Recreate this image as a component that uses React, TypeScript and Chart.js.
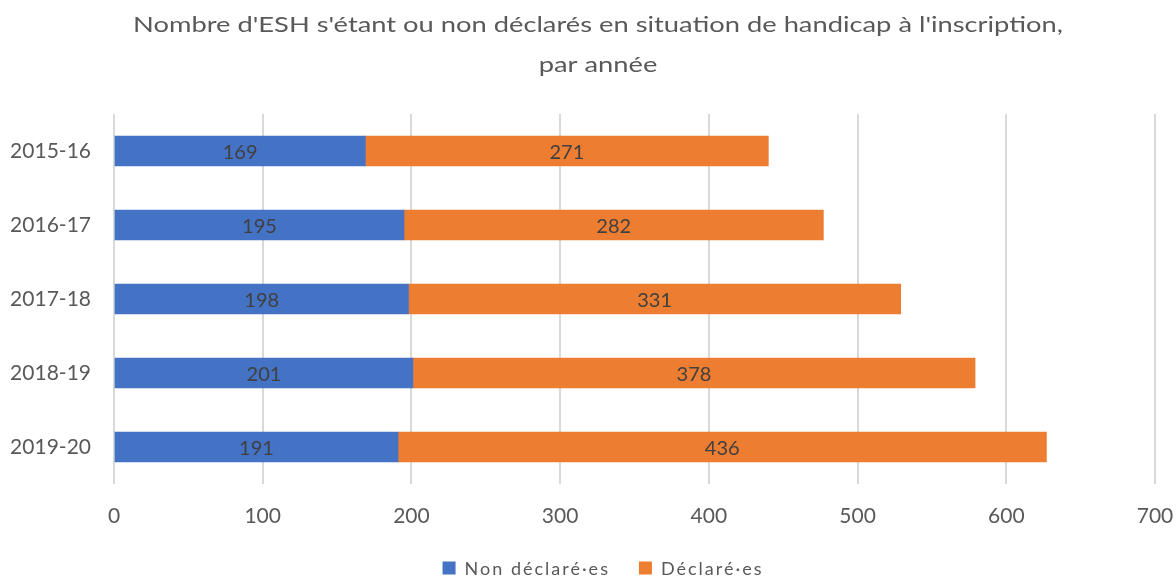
import React, { useEffect, useRef } from "react";
import { Chart, registerables } from "chart.js";

Chart.register(...registerables);

const categories = ["2015-16", "2016-17", "2017-18", "2018-19", "2019-20"];
const nonDeclares = [169, 195, 198, 201, 191];
const declares = [271, 282, 331, 378, 436];
const seriesNames = ["Non déclaré·es", "Déclaré·es"];
const seriesColors = ["#4472C4", "#ED7D31"];
const titleLines = [
  "Nombre d'ESH s'étant ou non déclarés en situation de handicap à l'inscription,",
  "par année",
];
const FONT = "Lato, 'Open Sans', sans-serif";
const TEXT = "#595959";

const labelPlugin = {
  id: "segLabels",
  afterDatasetsDraw(chart: any) {
    const ctx = chart.ctx;
    ctx.save();
    ctx.font = `20px ${FONT}`;
    ctx.fillStyle = "#404040";
    ctx.textAlign = "center";
    ctx.textBaseline = "middle";
    chart.data.datasets.forEach((ds: any, di: number) => {
      const meta = chart.getDatasetMeta(di);
      meta.data.forEach((el: any, i: number) => {
        const cx = (el.x + el.base) / 2;
        ctx.fillText(String(ds.data[i]), cx, el.y + 2);
      });
    });
    ctx.restore();
  },
};

const titleLegendPlugin = {
  id: "titleLegend",
  afterDraw(chart: any) {
    const ctx = chart.ctx;
    // Title
    ctx.save();
    ctx.font = `21px ${FONT}`;
    ctx.fillStyle = TEXT;
    ctx.textAlign = "center";
    ctx.textBaseline = "alphabetic";
    const cx = chart.width / 2 + 10;
    const baselines = [32, 72];
    titleLines.forEach((line, i) => {
      ctx.save();
      ctx.translate(cx, baselines[i]);
      ctx.scale(1.3, 1);
      ctx.fillText(line, 0, 0);
      ctx.restore();
    });
    ctx.restore();

    // Legend
    ctx.save();
    ctx.font = `18px ${FONT}`;
    try {
      (ctx as any).letterSpacing = "2px";
    } catch (e) {}
    ctx.textBaseline = "middle";
    ctx.textAlign = "left";
    const box = 13;
    const gap = 9;
    const itemGap = 29;
    const widths = chart.data.datasets.map((ds: any) => ctx.measureText(ds.label).width);
    const total = widths.reduce((a: number, w: number) => a + box + gap + w, 0) + itemGap * (widths.length - 1);
    let x = chart.width / 2 + 15 - total / 2;
    const y = 568;
    chart.data.datasets.forEach((ds: any, i: number) => {
      ctx.fillStyle = ds.backgroundColor;
      ctx.fillRect(x, y - box / 2, box, box);
      x += box + gap;
      ctx.fillStyle = TEXT;
      ctx.fillText(ds.label, x, y + 1);
      x += widths[i] + itemGap;
    });
    ctx.restore();
  },
};

export default function App() {
  const ref = useRef<HTMLCanvasElement | null>(null);
  useEffect(() => {
    if (!ref.current) return;
    const chart = new Chart(ref.current, {
      type: "bar",
      data: {
        labels: categories,
        datasets: [
          { label: seriesNames[0], data: nonDeclares, backgroundColor: seriesColors[0], barThickness: 30 },
          { label: seriesNames[1], data: declares, backgroundColor: seriesColors[1], barThickness: 30 },
        ],
      },
      options: {
        indexAxis: "y",
        animation: false,
        responsive: false,
        maintainAspectRatio: false,
        layout: { padding: { left: 0, right: 0, top: 114, bottom: 32 } },
        plugins: {
          title: { display: false },
          legend: { display: false },
          tooltip: { enabled: false },
        },
        scales: {
          x: {
            stacked: true,
            min: 0,
            max: 700,
            ticks: { stepSize: 100, color: TEXT, font: { family: FONT, size: 21 }, padding: 20 },
            grid: { color: "#d9d9d9", lineWidth: 2, drawTicks: false },
            border: { display: false },
            afterFit(scale: any) {
              scale.height = 62;
              scale.paddingLeft = 0;
              scale.paddingRight = 21;
            },
          },
          y: {
            stacked: true,
            ticks: { color: TEXT, font: { family: FONT, size: 21 }, padding: 23 },
            grid: { display: false, drawTicks: false },
            border: { display: false },
            afterFit(scale: any) {
              scale.width = 114;
            },
          },
        },
      },
      plugins: [labelPlugin, titleLegendPlugin],
    } as any);
    return () => chart.destroy();
  }, []);
  return (
    <div style={{ position: "absolute", left: 0, top: 0, width: 1176, height: 578, background: "#fff" }}>
      <canvas ref={ref} width={1176} height={578} />
    </div>
  );
}
